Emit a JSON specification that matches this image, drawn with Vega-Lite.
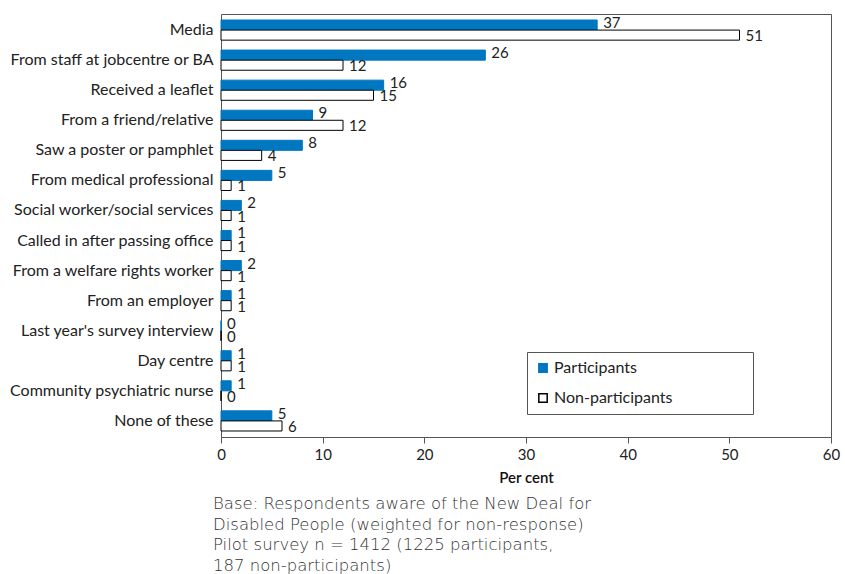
{
  "$schema": "https://vega.github.io/schema/vega-lite/v6.json",
  "width": 610,
  "height": 423,
  "autosize": {"type": "none"},
  "padding": {"left": 221, "top": 14, "right": 14, "bottom": 137},
  "background": "white",
  "config": {
    "font": "Lato",
    "view": {"stroke": "#555", "strokeWidth": 1}
  },
  "title": {
    "text": ["Base: Respondents aware of the New Deal for", "Disabled People (weighted for non-response)", "Pilot survey n = 1412 (1225 participants,", "187 non-participants)"],
    "orient": "bottom",
    "anchor": "start",
    "frame": "group",
    "dx": -8,
    "offset": 11,
    "font": "DejaVu Sans",
    "fontSize": 16.5,
    "fontWeight": 300,
    "color": "#333",
    "lineHeight": 20.5
  },
  "data": {
    "values": [
      {"source": "Media", "series": "Participants", "pct": 37},
      {"source": "Media", "series": "Non-participants", "pct": 51},
      {"source": "From staff at jobcentre or BA", "series": "Participants", "pct": 26},
      {"source": "From staff at jobcentre or BA", "series": "Non-participants", "pct": 12},
      {"source": "Received a leaflet", "series": "Participants", "pct": 16},
      {"source": "Received a leaflet", "series": "Non-participants", "pct": 15},
      {"source": "From a friend/relative", "series": "Participants", "pct": 9},
      {"source": "From a friend/relative", "series": "Non-participants", "pct": 12},
      {"source": "Saw a poster or pamphlet", "series": "Participants", "pct": 8},
      {"source": "Saw a poster or pamphlet", "series": "Non-participants", "pct": 4},
      {"source": "From medical professional", "series": "Participants", "pct": 5},
      {"source": "From medical professional", "series": "Non-participants", "pct": 1},
      {"source": "Social worker/social services", "series": "Participants", "pct": 2},
      {"source": "Social worker/social services", "series": "Non-participants", "pct": 1},
      {"source": "Called in after passing office", "series": "Participants", "pct": 1},
      {"source": "Called in after passing office", "series": "Non-participants", "pct": 1},
      {"source": "From a welfare rights worker", "series": "Participants", "pct": 2},
      {"source": "From a welfare rights worker", "series": "Non-participants", "pct": 1},
      {"source": "From an employer", "series": "Participants", "pct": 1},
      {"source": "From an employer", "series": "Non-participants", "pct": 1},
      {"source": "Last year's survey interview", "series": "Participants", "pct": 0},
      {"source": "Last year's survey interview", "series": "Non-participants", "pct": 0},
      {"source": "Day centre", "series": "Participants", "pct": 1},
      {"source": "Day centre", "series": "Non-participants", "pct": 1},
      {"source": "Community psychiatric nurse", "series": "Participants", "pct": 1},
      {"source": "Community psychiatric nurse", "series": "Non-participants", "pct": 0},
      {"source": "None of these", "series": "Participants", "pct": 5},
      {"source": "None of these", "series": "Non-participants", "pct": 6}
    ]
  },
  "encoding": {
    "y": {
      "field": "source",
      "type": "nominal",
      "sort": null,
      "scale": {"paddingInner": 0.33, "paddingOuter": 0.2},
      "axis": {"title": null, "ticks": false, "domain": false, "labelFontSize": 16, "labelColor": "#222", "labelPadding": 8, "labelLimit": 300}
    },
    "yOffset": {"field": "series", "type": "nominal", "sort": ["Participants", "Non-participants"]},
    "x": {
      "field": "pct",
      "type": "quantitative",
      "scale": {"domain": [0, 60], "nice": false},
      "axis": {"title": "Per cent", "values": [0, 10, 20, 30, 40, 50, 60], "grid": false, "labelFlush": false, "labelFontSize": 15, "labelColor": "#222", "titleFontSize": 15, "titleFontWeight": 600, "titleColor": "#111", "domainColor": "#555", "tickColor": "#555", "tickSize": 6, "labelPadding": 4, "titlePadding": 8}
    }
  },
  "layer": [
    {
      "mark": {"type": "bar", "strokeWidth": 1},
      "encoding": {
        "fill": {
          "field": "series", "type": "nominal",
          "scale": {"domain": ["Participants", "Non-participants"], "range": ["#0077C0", "#ffffff"]},
          "legend": {
            "title": null,
            "orient": "none",
            "legendX": 306,
            "legendY": 338,
            "strokeColor": "#555",
            "fillColor": "white",
            "padding": 8,
            "symbolType": "square",
            "symbolSize": 70,
            "labelFontSize": 16,
            "labelColor": "#222",
            "labelLimit": 400,
            "rowPadding": 14,
            "labelOffset": 3,
            "labelExpr": "datum.label + '\u2800\u2800\u2800\u2800\u2800\u2800'"
          }
        },
        "stroke": {
          "field": "series", "type": "nominal",
          "scale": {"domain": ["Participants", "Non-participants"], "range": ["#0077C0", "#000000"]}
        }
      }
    },
    {
      "transform": [{"filter": "datum.series == 'Participants'"}],
      "mark": {"type": "text", "align": "left", "baseline": "middle", "dx": 6, "dy": -2, "fontSize": 15, "color": "#222"},
      "encoding": {
        "text": {"field": "pct", "type": "quantitative"}
      }
    },
    {
      "transform": [{"filter": "datum.series == 'Non-participants'"}],
      "mark": {"type": "text", "align": "left", "baseline": "middle", "dx": 6, "dy": 1, "fontSize": 15, "color": "#222"},
      "encoding": {
        "text": {"field": "pct", "type": "quantitative"}
      }
    }
  ]
}
